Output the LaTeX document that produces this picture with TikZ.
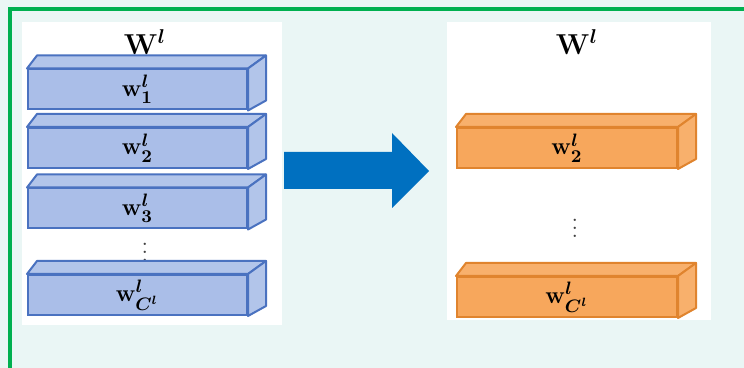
\documentclass[tikz,border=0pt]{standalone}
\usepackage{amsmath,amssymb}
\usetikzlibrary{arrows.meta,positioning}
\definecolor{bgcyan}{HTML}{EAF6F5}
\definecolor{framegreen}{HTML}{00B050}
\definecolor{arrowblue}{HTML}{0070C0}
\definecolor{bluefill}{HTML}{AABEE8}
\definecolor{blueedge}{HTML}{4A72C0}
\definecolor{orangefill}{HTML}{F7A75C}
\definecolor{orangeedge}{HTML}{E0842E}

\begin{document}
\begin{tikzpicture}[x=0.5pt,y=-0.5pt]
\tikzset{
  bluebrick/.style={rectangle,draw=blueedge,fill=bluefill,line width=1pt,minimum width=109.5pt,minimum height=20pt,inner sep=0pt,font=\fontsize{13}{15}\selectfont\boldmath},
  orangebrick/.style={rectangle,draw=orangeedge,fill=orangefill,line width=1pt,minimum width=110pt,minimum height=20pt,inner sep=0pt,font=\fontsize{13}{15}\selectfont\boldmath},
  bluefaces/.style={draw=blueedge,fill=bluefill!90!white,line width=1pt,line join=round},
  orangefaces/.style={draw=orangeedge,fill=orangefill!90!white,line width=1pt,line join=round},
  title/.style={font=\Large\boldmath,inner sep=1pt},
  dotsnode/.style={inner sep=0pt,font=\large,text=black!75},
  panel/.style={fill=white,draw=none}
}
\useasboundingbox (0,0) rectangle (744,368);
\fill[bgcyan] (0,0) rectangle (744,368);
% white panels
\fill[panel] (22,22) rectangle (282,325);
\fill[panel] (447,22) rectangle (711,320);
% frame
\draw[framegreen,line width=2pt] (10,370) -- (10,9) -- (746,9);

% left stack
\node[title] (wL) at (145,42) {$\mathbf{W}^{l}$};
\node[bluebrick] (b1) at (137.5,89.5) {$\mathbf{w}^{l}_{1}$};
\node[bluebrick] (b2) at (137.5,148) {$\mathbf{w}^{l}_{2}$};
\node[bluebrick] (b3) at (137.5,208.5) {$\mathbf{w}^{l}_{3}$};
\node[bluebrick] (bC) at (137.5,295) {$\mathbf{w}^{l}_{C^{l}}$};
\node[dotsnode] (dL) at (145,246) {$\vdots$};
\draw[bluefaces] (b1.north west) -- ++(10,-13) -- ([shift={(18,-13)}]b1.north east) -- (b1.north east) -- cycle;
\draw[bluefaces] (b1.north east) -- ([shift={(18,-13)}]b1.north east) -- ([shift={(18,-10)}]b1.south east) -- (b1.south east) -- cycle;
\draw[bluefaces] (b2.north west) -- ++(10,-13) -- ([shift={(18,-13)}]b2.north east) -- (b2.north east) -- cycle;
\draw[bluefaces] (b2.north east) -- ([shift={(18,-13)}]b2.north east) -- ([shift={(18,-10)}]b2.south east) -- (b2.south east) -- cycle;
\draw[bluefaces] (b3.north west) -- ++(10,-13) -- ([shift={(18,-13)}]b3.north east) -- (b3.north east) -- cycle;
\draw[bluefaces] (b3.north east) -- ([shift={(18,-13)}]b3.north east) -- ([shift={(18,-10)}]b3.south east) -- (b3.south east) -- cycle;
\draw[bluefaces] (bC.north west) -- ++(10,-13) -- ([shift={(18,-13)}]bC.north east) -- (bC.north east) -- cycle;
\draw[bluefaces] (bC.north east) -- ([shift={(18,-13)}]bC.north east) -- ([shift={(18,-10)}]bC.south east) -- (bC.south east) -- cycle;

% arrow
\fill[arrowblue] (284,152) -- (392,152) -- (392,133) -- (429,171) -- (392,208) -- (392,189) -- (284,189) -- cycle;

% right stack
\node[title] (wR) at (577,42) {$\mathbf{W}^{l}$};
\node[orangebrick] (o2) at (567,148) {$\mathbf{w}^{l}_{2}$};
\node[orangebrick] (oC) at (567,297) {$\mathbf{w}^{l}_{C^{l}}$};
\node[dotsnode] (dR) at (575,222) {$\vdots$};
\draw[orangefaces] (o2.north west) -- ++(10,-13) -- ([shift={(18,-13)}]o2.north east) -- (o2.north east) -- cycle;
\draw[orangefaces] (o2.north east) -- ([shift={(18,-13)}]o2.north east) -- ([shift={(18,-10)}]o2.south east) -- (o2.south east) -- cycle;
\draw[orangefaces] (oC.north west) -- ++(10,-13) -- ([shift={(18,-13)}]oC.north east) -- (oC.north east) -- cycle;
\draw[orangefaces] (oC.north east) -- ([shift={(18,-13)}]oC.north east) -- ([shift={(18,-10)}]oC.south east) -- (oC.south east) -- cycle;
\end{tikzpicture}
\end{document}
